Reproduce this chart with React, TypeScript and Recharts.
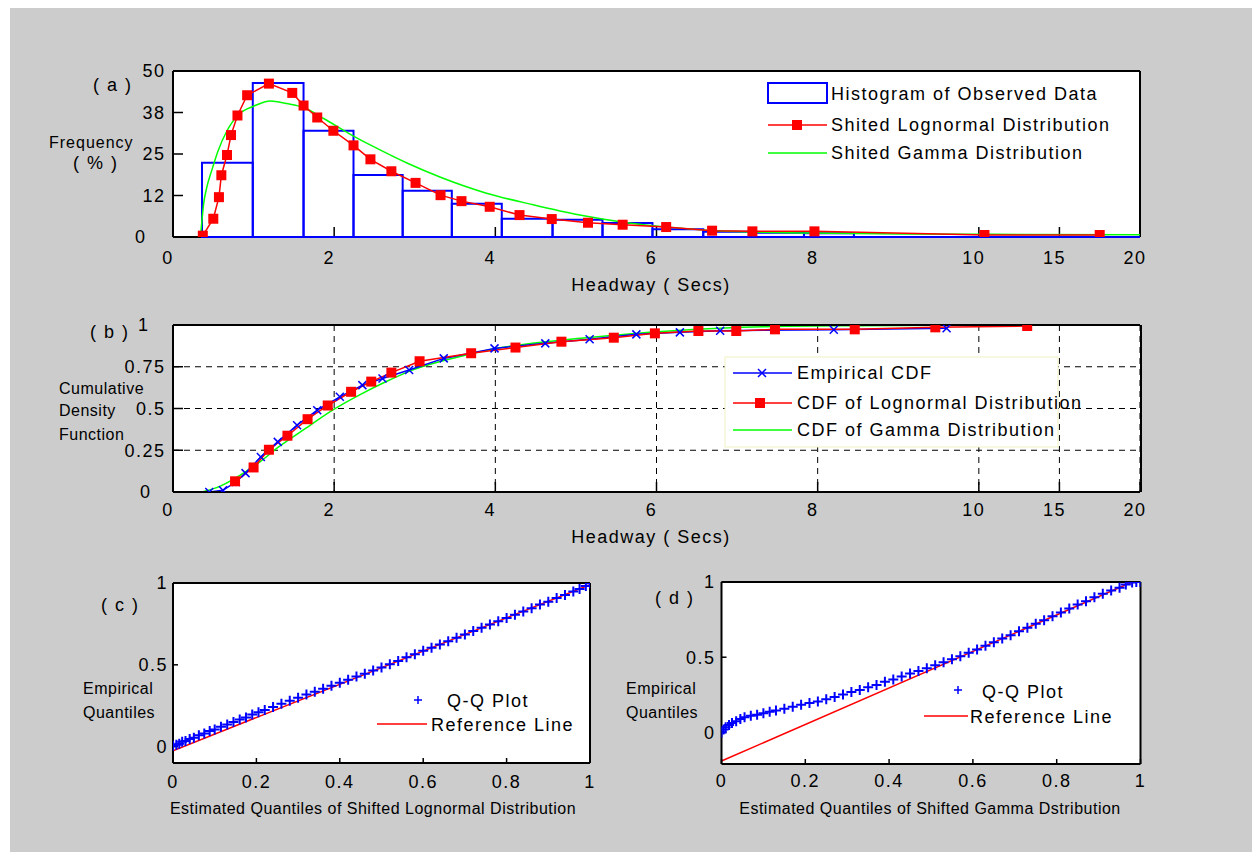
import {
  ComposedChart,
  Line,
  Scatter,
  XAxis,
  YAxis,
  CartesianGrid,
  ReferenceArea,
  ReferenceLine,
} from "recharts";

const FONT = '"Liberation Sans", Arial, Helvetica, sans-serif';
const BLUE = "#0000ff";
const RED = "#ff0000";
const GREEN = "#00ff00";

// (a) histogram of observed headways (% per bin), bin edges in seconds
const binEdges = [0.36, 0.99, 1.62, 2.24, 2.85, 3.46, 4.08, 4.71, 5.33, 5.95, 6.58, 7.2, 7.83, 8.45];
const binFreq = [22.4, 46.4, 32, 18.7, 13.9, 10, 5.5, 5.2, 4.2, 2.3, 1.6, 1.3, 1.1];

// (a) shifted lognormal pdf (markers)
const lnPdfX = [0.37, 0.5, 0.57, 0.6, 0.67, 0.72, 0.8, 0.92, 1.19, 1.48, 1.62, 1.79, 1.99, 2.24, 2.45, 2.71, 3.01, 3.32, 3.58, 3.93, 4.3, 4.7, 5.15, 5.58, 6.12, 6.69, 7.19, 7.96, 10.35, 17.5];
const lnPdfY = [0.4, 5.5, 12, 18.6, 24.7, 30.7, 36.6, 42.7, 46.2, 43.4, 39.6, 36, 32, 27.6, 23.4, 19.8, 16.3, 12.6, 10.8, 9.1, 6.6, 5.4, 4.3, 3.7, 3.0, 1.9, 1.7, 1.7, 0.6, 0.6];

// (a) shifted gamma pdf
const gmPdfX = [0.34, 0.36, 0.38, 0.42, 0.48, 0.56, 0.67, 0.83, 1.0, 1.21, 1.41, 1.62, 1.87, 2.24, 2.49, 2.91, 3.32, 3.89, 4.47, 5.03, 5.61, 6.18, 6.75, 7.89, 9.03, 10.85, 20];
const gmPdfY = [0, 5.2, 10, 15, 20, 26, 32, 37.2, 39.4, 41, 40.2, 39, 35.7, 30.4, 27.2, 22.2, 18, 13.2, 9.7, 6.7, 4.4, 2.9, 1.9, 1.2, 0.9, 0.8, 0.7];

// (b) cumulative curves
const ecdfX = [0.45, 0.62, 0.78, 0.9, 1.09, 1.3, 1.54, 1.79, 2.07, 2.35, 2.6, 2.93, 3.36, 3.99, 4.62, 5.17, 5.75, 6.29, 6.79, 8.2, 9.6];
const ecdfY = [0, 0.01, 0.06, 0.113, 0.21, 0.3, 0.4, 0.49, 0.57, 0.64, 0.68, 0.73, 0.8, 0.86, 0.89, 0.915, 0.944, 0.956, 0.966, 0.972, 0.98];
const lnCdfX = [0.77, 1.0, 1.19, 1.42, 1.67, 1.92, 2.21, 2.46, 2.71, 3.06, 3.7, 4.25, 4.82, 5.47, 5.98, 6.52, 6.99, 7.47, 8.46, 9.46, 13.0];
const lnCdfY = [0.064, 0.147, 0.253, 0.337, 0.436, 0.518, 0.6, 0.661, 0.715, 0.783, 0.831, 0.865, 0.9, 0.924, 0.95, 0.964, 0.964, 0.974, 0.974, 0.986, 0.994];
const gmCdfX = [0.36, 0.58, 0.83, 1.07, 1.32, 1.65, 1.98, 2.31, 2.64, 2.97, 3.55, 3.91, 5.06, 6.21, 7.36, 8.5, 10.5, 20];
const gmCdfY = [0, 0.034, 0.1, 0.177, 0.273, 0.382, 0.49, 0.58, 0.66, 0.73, 0.81, 0.85, 0.92, 0.966, 0.99, 0.996, 1.0, 1.0];

// (c) Q-Q against shifted lognormal
const qqLnX = [0, 0.008, 0.015, 0.022, 0.03, 0.04, 0.05, 0.062, 0.075, 0.088, 0.1, 0.115, 0.13, 0.145, 0.16, 0.175, 0.19, 0.205, 0.22, 0.24, 0.26, 0.28, 0.3, 0.32, 0.34, 0.36, 0.38, 0.4, 0.42, 0.44, 0.46, 0.48, 0.5, 0.52, 0.54, 0.56, 0.58, 0.6, 0.62, 0.64, 0.66, 0.68, 0.7, 0.72, 0.74, 0.76, 0.78, 0.8, 0.82, 0.84, 0.86, 0.88, 0.9, 0.92, 0.94, 0.96, 0.975, 0.99, 1.0];
const qqLnY = [0.005, 0.012, 0.018, 0.03, 0.034, 0.046, 0.055, 0.07, 0.08, 0.095, 0.105, 0.122, 0.136, 0.15, 0.166, 0.178, 0.196, 0.21, 0.224, 0.242, 0.262, 0.28, 0.299, 0.318, 0.336, 0.354, 0.372, 0.39, 0.408, 0.428, 0.446, 0.466, 0.484, 0.504, 0.524, 0.546, 0.564, 0.586, 0.604, 0.624, 0.644, 0.666, 0.686, 0.706, 0.726, 0.746, 0.766, 0.786, 0.806, 0.826, 0.846, 0.868, 0.886, 0.908, 0.926, 0.948, 0.964, 0.982, 0.998];
const refLnX = [0, 1];
const refLnY = [-0.025, 0.99];

// (d) Q-Q against shifted gamma
const qqGmX = [0, 0.005, 0.01, 0.018, 0.025, 0.035, 0.045, 0.055, 0.07, 0.085, 0.1, 0.115, 0.13, 0.15, 0.17, 0.19, 0.21, 0.23, 0.25, 0.27, 0.29, 0.31, 0.33, 0.35, 0.37, 0.39, 0.41, 0.43, 0.45, 0.47, 0.49, 0.51, 0.53, 0.55, 0.57, 0.59, 0.61, 0.63, 0.65, 0.67, 0.69, 0.71, 0.73, 0.75, 0.77, 0.79, 0.81, 0.83, 0.85, 0.87, 0.89, 0.91, 0.93, 0.95, 0.965, 0.98, 0.99, 1.0];
const qqGmY = [0, 0.02, 0.035, 0.05, 0.062, 0.075, 0.09, 0.1, 0.11, 0.118, 0.128, 0.138, 0.146, 0.158, 0.17, 0.184, 0.196, 0.206, 0.22, 0.236, 0.252, 0.268, 0.282, 0.3, 0.316, 0.336, 0.352, 0.372, 0.392, 0.408, 0.426, 0.446, 0.466, 0.486, 0.506, 0.53, 0.552, 0.576, 0.6, 0.624, 0.646, 0.672, 0.696, 0.722, 0.746, 0.772, 0.798, 0.824, 0.85, 0.872, 0.898, 0.922, 0.944, 0.962, 0.984, 0.996, 1.0, 1.0];
const refGmX = [0, 0.98];
const refGmY = [-0.19, 1.0];

// axis ticks
const headwayTicks = [0, 2, 4, 6, 8, 10, 15, 20];
const freqTicks = [0, 12.5, 25, 37.5, 50];
const freqLabels = ["0", "12", "25", "38", "50"];
const cdfTicks = [0, 0.25, 0.5, 0.75, 1];
const cdfLabels = ["0", "0.25", "0.5", "0.75", "1"];
const cdfMinor = [0, 0.05, 0.1, 0.15, 0.2, 0.25, 0.3, 0.35, 0.4, 0.45, 0.5, 0.55, 0.6, 0.65, 0.7, 0.75, 0.8, 0.85, 0.9, 0.95, 1];
const qqXTicks = [0, 0.2, 0.4, 0.6, 0.8, 1];
const qqXLabels = ["0", "0.2", "0.4", "0.6", "0.8", "1"];
const qqYTicks = [0, 0.5, 1];
const qqYLabels = ["0", "0.5", "1"];

// headway axis: 0-10 s linear, 10-20 s squeezed into two units
const hx = (s: number) => (s <= 10 ? s : 10 + (s - 10) / 5);
const hwTicks = headwayTicks.map(hx);
const hwLabels = headwayTicks.map(String);

const pts = (xs: number[], ys: number[], fx: (v: number) => number = (v) => v) =>
  xs.map((x, i) => ({ x: fx(x), y: ys[i] }));

type TickOpts = {
  ticks: number[];
  labels: string[];
  anchor: "start" | "middle" | "end";
  dx?: number;
  shift?: Record<string, number>;
};

const tickText = (o: TickOpts) => (p: any) => {
  const i = o.ticks.findIndex((t) => Math.abs(t - p.payload.value) < 1e-9);
  const label = i >= 0 ? o.labels[i] : "";
  return (
    <text
      x={p.x + (o.dx ?? 0) + (o.shift?.[label] ?? 0)}
      y={p.y}
      dy="0.35em"
      textAnchor={o.anchor}
      fontFamily={FONT}
      fontSize={18}
      letterSpacing={1.5}
      fill="#000"
    >
      {label}
    </text>
  );
};

const axisLine = { stroke: "#000", strokeWidth: 2 };
const tickLine = { stroke: "#000", strokeWidth: 1.5 };

type FrameOpts = {
  xDomain: [number, number];
  xTicks: number[];
  xLabels: string[];
  yDomain: [number, number];
  yTicks: number[];
  yLabels: string[];
  tick: number;
  xMargin: number;
  yMargin: number;
  xdx?: number;
  yShift?: Record<string, number>;
};

// MATLAB style box: inward ticks on all four sides (axes are 1px thick so they still render)
function frame(o: FrameOpts) {
  return [
    <XAxis
      key="xb"
      dataKey="x"
      type="number"
      domain={o.xDomain}
      ticks={o.xTicks}
      interval={0}
      allowDataOverflow
      height={1}
      tickSize={-o.tick}
      tickMargin={o.xMargin}
      axisLine={axisLine}
      tickLine={tickLine}
      tick={tickText({ ticks: o.xTicks, labels: o.xLabels, anchor: "middle", dx: o.xdx })}
    />,
    <XAxis
      key="xt"
      xAxisId="top"
      orientation="top"
      type="number"
      domain={o.xDomain}
      ticks={o.xTicks}
      interval={0}
      allowDataOverflow
      height={1}
      tickSize={-o.tick}
      axisLine={axisLine}
      tickLine={tickLine}
      tick={false}
    />,
    <YAxis
      key="yl"
      dataKey="y"
      type="number"
      domain={o.yDomain}
      ticks={o.yTicks}
      interval={0}
      allowDataOverflow
      width={1}
      tickSize={-o.tick}
      tickMargin={o.yMargin}
      axisLine={axisLine}
      tickLine={tickLine}
      tick={tickText({ ticks: o.yTicks, labels: o.yLabels, anchor: "end", shift: o.yShift })}
    />,
    <YAxis
      key="yr"
      yAxisId="right"
      orientation="right"
      type="number"
      domain={o.yDomain}
      ticks={o.yTicks}
      interval={0}
      allowDataOverflow
      width={1}
      tickSize={-o.tick}
      axisLine={axisLine}
      tickLine={tickLine}
      tick={false}
    />,
  ];
}

const squareDot = (p: any) => (
  <rect key={`sq${p.index}`} x={p.cx - 5} y={p.cy - 5} width={10} height={10} fill={RED} />
);
const crossDot = (p: any) => (
  <path
    key={`cr${p.index}`}
    d={`M${p.cx - 4},${p.cy - 4}L${p.cx + 4},${p.cy + 4}M${p.cx - 4},${p.cy + 4}L${p.cx + 4},${p.cy - 4}`}
    stroke={BLUE}
    strokeWidth={1.5}
  />
);
const plusShape = (p: any) => (
  <path d={`M${p.cx - 5},${p.cy}h10M${p.cx},${p.cy - 5}v10`} stroke={BLUE} strokeWidth={2} />
);

function T({ x, y, s = 18, ls = 1.5, anchor = "start", children }: any) {
  return (
    <text x={x} y={y} dy="0.35em" fontSize={s} letterSpacing={ls} textAnchor={anchor} fontFamily={FONT} fill="#000">
      {children}
    </text>
  );
}

export default function App() {
  const histTop = binEdges[binEdges.length - 1];
  return (
    <div style={{ position: "absolute", left: 0, top: 0, width: 1252, height: 852, background: "#fff", overflow: "hidden" }}>
      <div style={{ position: "absolute", left: 10, top: 8, width: 1242, height: 844, background: "#cccccc" }} />

      {/* (a) frequency */}
      <div style={{ position: "absolute", left: 0, top: 0 }}>
        <ComposedChart width={1252} height={300} margin={{ top: 70, right: 111, bottom: 62, left: 172 }}>
          <CartesianGrid horizontal={false} vertical={false} fill="#fff" />
          {frame({
            xDomain: [0, 12],
            xTicks: hwTicks,
            xLabels: hwLabels,
            yDomain: [0, 50],
            yTicks: freqTicks,
            yLabels: freqLabels,
            tick: 10,
            xMargin: 31,
            yMargin: 17.5,
            xdx: -5,
            yShift: { "0": -19 },
          })}
          {binFreq.map((f, i) => (
            <ReferenceArea
              key={`bin${i}`}
              x1={hx(binEdges[i])}
              x2={hx(binEdges[i + 1])}
              y1={0}
              y2={f}
              fill="none"
              stroke={BLUE}
              strokeWidth={2}
              zIndex={550}
            />
          ))}
          <ReferenceLine
            segment={[{ x: hx(histTop), y: 0 }, { x: hx(20), y: 0 }]}
            stroke={BLUE}
            strokeWidth={2}
            zIndex={550}
          />
          <Line
            data={pts(gmPdfX, gmPdfY, hx)}
            dataKey="y"
            type="monotone"
            stroke={GREEN}
            strokeWidth={1.5}
            dot={false}
            isAnimationActive={false}
            zIndex={560}
          />
          <Line
            data={pts(lnPdfX, lnPdfY, hx)}
            dataKey="y"
            type="linear"
            stroke={RED}
            strokeWidth={1.5}
            dot={squareDot}
            isAnimationActive={false}
            zIndex={570}
          />
        </ComposedChart>
      </div>

      {/* (b) cumulative */}
      <div style={{ position: "absolute", left: 0, top: 300 }}>
        <ComposedChart width={1252} height={260} margin={{ top: 24, right: 110, bottom: 67, left: 171 }}>
          <CartesianGrid stroke="#000" strokeDasharray="6 5" strokeWidth={1} fill="#fff" />
          {frame({
            xDomain: [0, 12],
            xTicks: hwTicks,
            xLabels: hwLabels,
            yDomain: [0, 1],
            yTicks: cdfTicks,
            yLabels: cdfLabels,
            tick: 10,
            xMargin: 28,
            yMargin: 17.5,
            xdx: -5,
            yShift: { "0": -14, "1": -16 },
          })}
          <YAxis yAxisId="minorL" type="number" domain={[0, 1]} ticks={cdfMinor} interval={0} allowDataOverflow width={1} tickSize={-5} axisLine={false} tickLine={tickLine} tick={false} />
          <YAxis yAxisId="minorR" orientation="right" type="number" domain={[0, 1]} ticks={cdfMinor} interval={0} allowDataOverflow width={1} tickSize={-5} axisLine={false} tickLine={tickLine} tick={false} />
          <Line
            data={pts(gmCdfX, gmCdfY, hx)}
            dataKey="y"
            type="monotone"
            stroke={GREEN}
            strokeWidth={1.5}
            dot={false}
            isAnimationActive={false}
          />
          <Line
            data={pts(ecdfX, ecdfY, hx)}
            dataKey="y"
            type="linear"
            stroke={BLUE}
            strokeWidth={1.5}
            dot={crossDot}
            isAnimationActive={false}
          />
          <Line
            data={pts(lnCdfX, lnCdfY, hx)}
            dataKey="y"
            type="linear"
            stroke={RED}
            strokeWidth={1.5}
            dot={squareDot}
            isAnimationActive={false}
          />
        </ComposedChart>
      </div>

      {/* (c) Q-Q lognormal */}
      <div style={{ position: "absolute", left: 0, top: 560 }}>
        <ComposedChart width={640} height={292} margin={{ top: 22, right: 49, bottom: 88, left: 172 }}>
          <CartesianGrid horizontal={false} vertical={false} fill="#fff" />
          {frame({
            xDomain: [0, 1],
            xTicks: qqXTicks,
            xLabels: qqXLabels,
            yDomain: [-0.1, 1],
            yTicks: qqYTicks,
            yLabels: qqYLabels,
            tick: 5,
            xMargin: 24,
            yMargin: 10,
          })}
          <Line data={pts(refLnX, refLnY)} dataKey="y" type="linear" stroke={RED} strokeWidth={1.5} dot={false} isAnimationActive={false} />
          <Scatter data={pts(qqLnX, qqLnY)} dataKey="y" shape={plusShape} isAnimationActive={false} />
        </ComposedChart>
      </div>

      {/* (d) Q-Q gamma */}
      <div style={{ position: "absolute", left: 640, top: 560 }}>
        <ComposedChart width={612} height={292} margin={{ top: 21, right: 110.5, bottom: 87, left: 80.5 }}>
          <CartesianGrid horizontal={false} vertical={false} fill="#fff" />
          {frame({
            xDomain: [0, 1],
            xTicks: qqXTicks,
            xLabels: qqXLabels,
            yDomain: [-0.21, 1],
            yTicks: qqYTicks,
            yLabels: qqYLabels,
            tick: 5,
            xMargin: 22,
            yMargin: 11,
          })}
          <Line data={pts(refGmX, refGmY)} dataKey="y" type="linear" stroke={RED} strokeWidth={1.5} dot={false} isAnimationActive={false} />
          <Scatter data={pts(qqGmX, qqGmY)} dataKey="y" shape={plusShape} isAnimationActive={false} />
        </ComposedChart>
      </div>

      {/* labels and legends */}
      <svg width={1252} height={852} style={{ position: "absolute", left: 0, top: 0, pointerEvents: "none" }}>
        {/* (a) */}
        <T x={93} y={85}>( a )</T>
        <T x={49} y={142} s={16} ls={1}>Frequency</T>
        <T x={73} y={163}>( % )</T>
        <T x={651} y={285} anchor="middle">Headway ( Secs)</T>
        <rect x={768} y={83} width={59} height={20} fill="none" stroke={BLUE} strokeWidth={2} />
        <T x={831} y={94}>Histogram of Observed Data</T>
        <line x1={768} x2={827} y1={125} y2={125} stroke={RED} strokeWidth={1.5} />
        <rect x={792} y={120} width={10} height={10} fill={RED} />
        <T x={831} y={125}>Shited Lognormal Distribution</T>
        <line x1={768} x2={827} y1={153} y2={153} stroke={GREEN} strokeWidth={1.5} />
        <T x={831} y={153}>Shited Gamma Distribution</T>

        {/* (b) */}
        <T x={90} y={332}>( b )</T>
        <T x={59} y={388} s={16} ls={0.5}>Cumulative</T>
        <T x={59} y={410} s={16} ls={0.5}>Density</T>
        <T x={59} y={434} s={16} ls={0.5}>Function</T>
        <T x={651} y={537} anchor="middle">Headway ( Secs)</T>
        <rect x={725} y={357} width={333} height={90} fill="#fff" />
        <line x1={733} x2={792} y1={373} y2={373} stroke={BLUE} strokeWidth={1.5} />
        <path d="M758,369L766,377M758,377L766,369" stroke={BLUE} strokeWidth={1.5} />
        <T x={797} y={373}>Empirical CDF</T>
        <line x1={733} x2={792} y1={403} y2={403} stroke={RED} strokeWidth={1.5} />
        <rect x={755} y={398} width={10} height={10} fill={RED} />
        <T x={797} y={403}>CDF of Lognormal Distribution</T>
        <line x1={733} x2={792} y1={430} y2={430} stroke={GREEN} strokeWidth={1.5} />
        <T x={797} y={430}>CDF of Gamma Distribution</T>
        <rect x={725} y={357} width={333} height={90} fill="none" stroke="#f2f2c4" strokeWidth={1} />

        {/* (c) */}
        <T x={101} y={605}>( c )</T>
        <T x={83} y={688} s={16} ls={0.5}>Empirical</T>
        <T x={83} y={712} s={16} ls={0.5}>Quantiles</T>
        <T x={373} y={808} s={16} ls={0.5} anchor="middle">Estimated Quantiles of Shifted Lognormal Distribution</T>
        <path d="M414,700h8M418,696v8" stroke={BLUE} strokeWidth={1.5} />
        <T x={447} y={701}>Q-Q Plot</T>
        <line x1={377} x2={427} y1={724} y2={724} stroke={RED} strokeWidth={1.5} />
        <T x={431} y={725}>Reference Line</T>

        {/* (d) */}
        <T x={655} y={598}>( d )</T>
        <T x={626} y={688} s={16} ls={0.5}>Empirical</T>
        <T x={626} y={712} s={16} ls={0.5}>Quantiles</T>
        <T x={930} y={808} s={16} ls={0.5} anchor="middle">Estimated Quantiles of Shifted Gamma Dstribution</T>
        <path d="M954,690h8M958,686v8" stroke={BLUE} strokeWidth={1.5} />
        <T x={982} y={692}>Q-Q Plot</T>
        <line x1={924} x2={968} y1={716} y2={716} stroke={RED} strokeWidth={1.5} />
        <T x={970} y={717}>Reference Line</T>
      </svg>
    </div>
  );
}
